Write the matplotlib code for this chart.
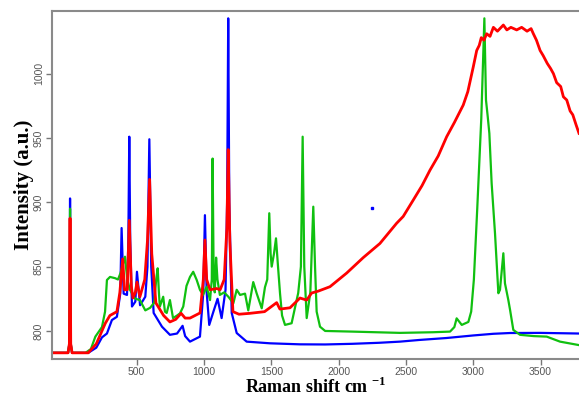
"""
Raman spectra of three samples (blue, green, red).
"""

import matplotlib
matplotlib.use('Agg')
import matplotlib.pyplot as plt

# Raman shift (cm-1) and intensity (a.u.).
blue_x = [-130, -10, 0, 5, 10, 20, 140, 200, 242, 279, 316, 353, 378, 388, 403,
          428, 438, 445, 452, 465, 490, 502, 525, 564, 580, 594, 608, 626, 688,
          747, 800, 841, 860, 896, 970, 995, 1007, 1020, 1039, 1070, 1101,
          1131, 1160, 1172, 1180, 1188, 1206, 1243, 1317, 1490, 1713, 1900,
          2100, 2300, 2456, 2600, 2800, 3000, 3150, 3274, 3500, 3786]
blue_y = [783, 783, 790, 903, 790, 783, 783, 787, 795, 798, 808.5, 811, 829,
          880, 829, 828, 870, 951, 870, 819, 822.8, 846, 820, 826.6, 850, 949,
          850, 814, 803.3, 797, 798, 804, 796, 791.7, 795.6, 830, 890, 830,
          804.7, 815, 825, 810, 832, 900, 1043, 900, 814, 798.4, 791.7, 790.4,
          789.6, 789.5, 790, 790.8, 791.7, 793, 794.5, 796.5, 797.8, 798.4,
          798.5, 798]

green_x = [-130, -10, 0, 5, 10, 20, 120, 160, 193, 242, 265, 279, 302, 340,
           361, 380, 413, 430, 450, 490, 524, 564, 600, 630, 645, 656, 665,
           672, 697, 710, 723, 747, 770, 800, 822, 846, 870, 896, 920, 946,
           970, 993, 1020, 1045, 1058, 1064, 1072, 1080, 1090, 1100, 1118,
           1150, 1181, 1218, 1243, 1268, 1305, 1329, 1366, 1392, 1429, 1453,
           1470, 1485, 1495, 1503, 1520, 1535, 1550, 1565, 1580, 1602, 1651,
           1680, 1700, 1720, 1733, 1745, 1763, 1790, 1812, 1825, 1837, 1862,
           1900, 2100, 2456, 2700, 2828, 2860, 2877, 2915, 2964, 2985, 3005,
           3030, 3060, 3083, 3095, 3108, 3120, 3137, 3162, 3187, 3199, 3224,
           3236, 3261, 3274, 3298, 3348, 3450, 3546, 3645, 3786]
green_y = [783, 783, 790, 895, 790, 783, 783, 786, 795.6, 803, 815, 839.6, 842,
           841, 840, 845, 857.7, 840, 832, 825, 824, 816, 818, 822, 840, 848.7,
           830, 819, 826.6, 815, 814, 824, 810, 812, 813.7, 819, 835, 842, 846,
           839.6, 832, 828, 834.4, 824, 840, 934, 840, 830, 857, 840, 828, 830,
           826.6, 821.5, 832, 828, 829, 816, 838, 829, 817.6, 834, 840, 891.5,
           860, 850, 860, 872, 850, 829, 812, 804.7, 806, 820, 829.5, 850, 951,
           850, 810, 830, 896.6, 850, 815, 803.3, 800, 799.5, 798.5, 799,
           799.5, 803, 809.8, 804.7, 807, 815, 840, 895, 965, 1043, 979.5,
           966.5, 953.6, 914.8, 875.9, 829.3, 832, 860.4, 837, 824, 816.3,
           800.8, 797, 796, 795.6, 791.7, 789]

red_x = [-130, -10, 0, 5, 10, 20, 140, 200, 267, 301, 353, 375, 396, 410, 430,
         445, 460, 472, 490, 502, 524, 560, 580, 596, 612, 643, 700, 747, 790,
         830, 860, 896, 971, 995, 1007, 1020, 1045, 1094, 1120, 1150, 1170,
         1180, 1192, 1215, 1260, 1341, 1450, 1540, 1564, 1639, 1713, 1763,
         1800, 1850, 1936, 2060, 2183, 2307, 2431, 2480, 2555, 2620, 2679,
         2740, 2803, 2860, 2926, 2960, 3000, 3026, 3045, 3060, 3080, 3100,
         3125, 3150, 3180, 3224, 3250, 3280, 3323, 3360, 3400, 3430, 3447,
         3470, 3497, 3520, 3550, 3575, 3596, 3620, 3650, 3670, 3695, 3720,
         3740, 3765, 3786]
red_y = [783, 783, 790, 887.6, 790, 783, 783, 790, 806, 812, 815, 830, 856,
         832, 832, 886, 835, 825.6, 830, 838, 826.6, 840, 870, 917.8, 860,
         821.7, 812, 807, 809, 813.7, 810, 810, 814, 840, 870.7, 840, 832, 833,
         832, 840, 880, 941, 870, 815, 813, 813.7, 815, 822, 817, 818, 825.6,
         824, 829.5, 831, 834.4, 845, 857, 868, 883.7, 889, 901.8, 913, 925,
         936, 951, 962, 975.6, 986, 1005, 1018, 1022, 1028, 1026, 1031, 1029,
         1036, 1033, 1037.8, 1034, 1036, 1034, 1036, 1033, 1035, 1031, 1026,
         1018, 1014, 1008, 1004, 1000, 993, 990, 982, 979.5, 971, 968, 960,
         953.6]

stray_x = [2246]
stray_y = [895.3]

plt.rcParams['mathtext.fontset'] = 'custom'
plt.rcParams['mathtext.bf'] = 'Liberation Serif:bold'
plt.rcParams['mathtext.rm'] = 'Liberation Serif:bold'

fig = plt.figure(figsize=(5.79, 4.0), dpi=100)
axes = fig.add_axes([0.0903, 0.1025, 0.9097, 0.87])

axes.plot(blue_x, blue_y, color='#0000ff', lw=1.6)
axes.plot(green_x, green_y, color='#10c010', lw=1.6)
axes.plot(red_x, red_y, color='#ff0000', lw=2.0)
axes.plot(stray_x, stray_y, 's', color='#0000ff', markersize=1.5)

axes.set_xlim(-127, 3786)
axes.set_ylim(778.2, 1048.7)
axes.set_xticks([500, 1000, 1500, 2000, 2500, 3000, 3500])
axes.set_yticks([800, 850, 900, 950, 1000])

for side in ('left', 'bottom', 'top'):
    axes.spines[side].set_color('#8a8a8a')
    axes.spines[side].set_linewidth(1.5)
axes.spines['right'].set_visible(False)

axes.tick_params(direction='out', length=4, width=1, color='#777777',
                 labelsize=7.5, labelcolor='#555555', pad=2)
for lab in axes.get_xticklabels() + axes.get_yticklabels():
    lab.set_family('Liberation Sans')
for lab in axes.get_yticklabels():
    lab.set_rotation(90)
    lab.set_va('center')

axes.set_xlabel(r'Raman shift cm $^{\mathbf{-1}}$', family='Liberation Serif',
                fontweight='bold', fontsize=13, labelpad=0)
axes.set_ylabel('Intensity (a.u.)', family='Liberation Serif',
                fontweight='bold', fontsize=15, labelpad=0)

plt.savefig('out.png', dpi=100)
